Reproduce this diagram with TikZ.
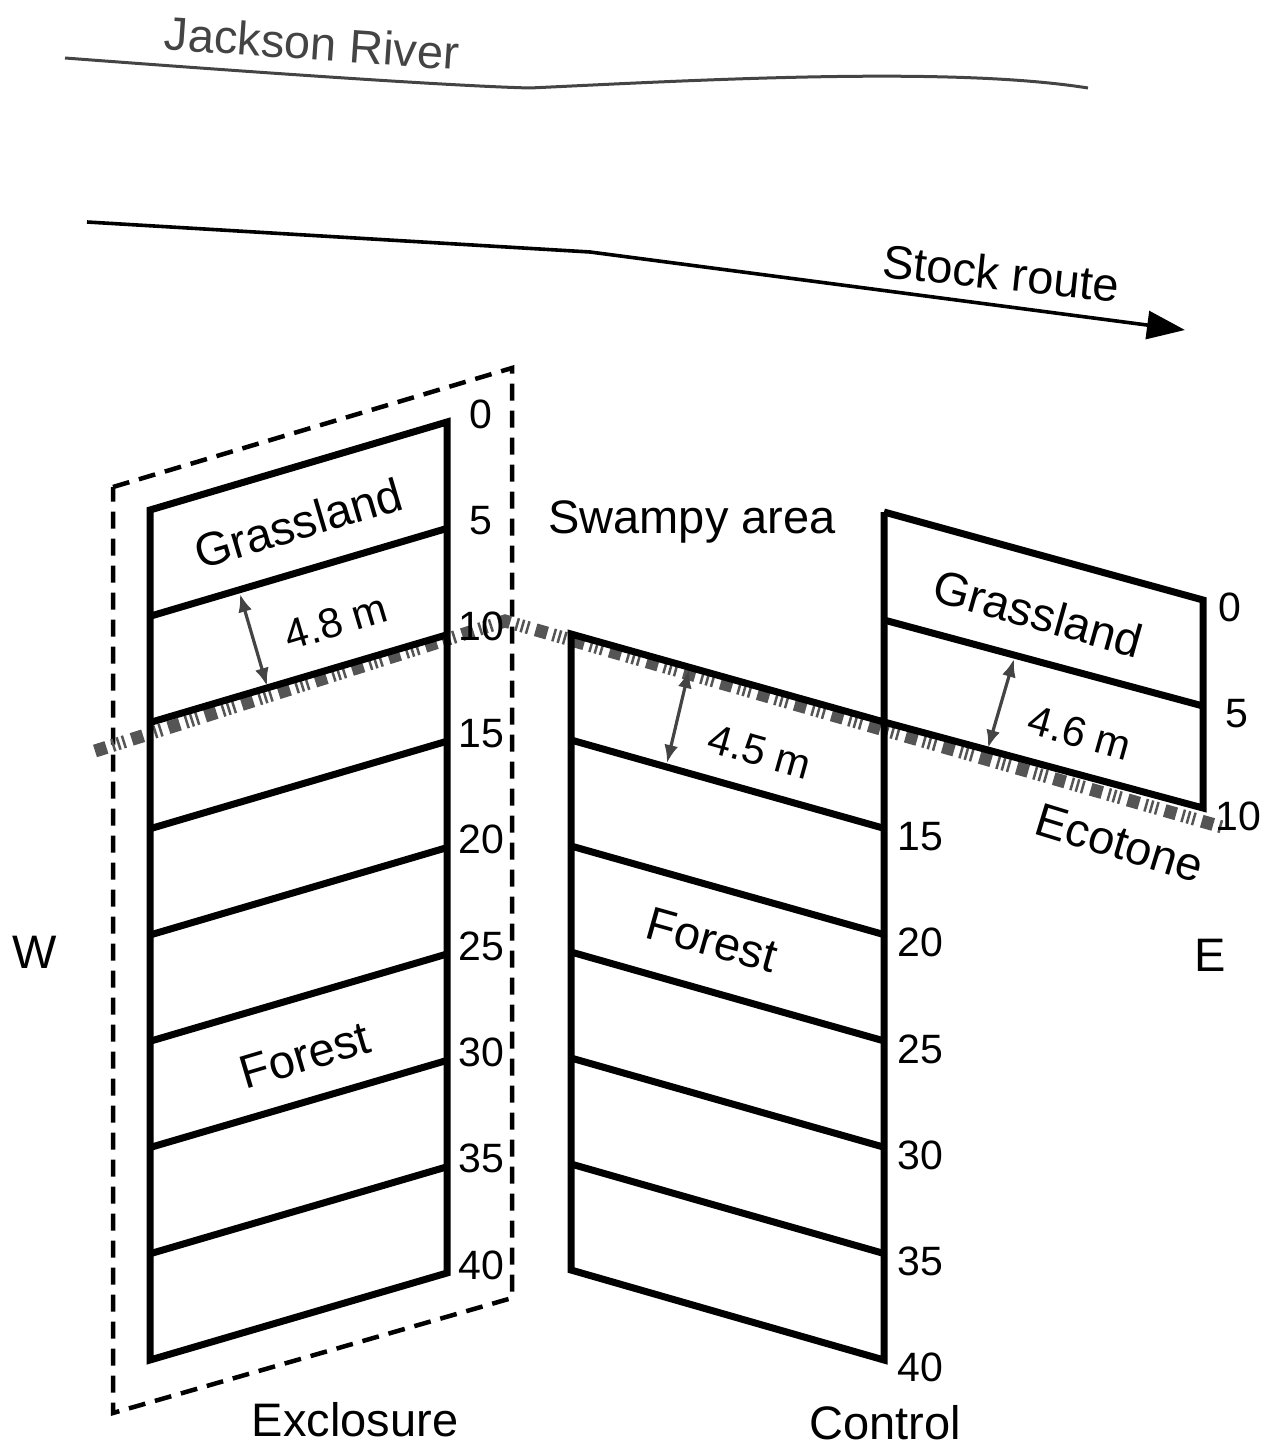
\documentclass[tikz,border=0pt]{standalone}
\usepackage{fontspec}
\setmainfont{Liberation Sans}
\usetikzlibrary{arrows.meta}
\definecolor{rivergray}{HTML}{444444}
\definecolor{ecogray}{HTML}{555555}
\begin{document}
\begin{tikzpicture}[x=1pt,y=-1pt,
  lbl/.style={font=\fontsize{47}{56}\selectfont, inner sep=0pt},
  meas/.style={font=\fontsize{42}{50}\selectfont, inner sep=0pt},
  num/.style={font=\fontsize{41}{48}\selectfont, inner sep=0pt},
  transect/.style={line width=7pt, line join=miter},
  boxdash/.style={line width=4.5pt, dash pattern=on 17pt off 10pt},
  ecotone/.style={line width=13pt, ecogray, dash pattern=on 12pt off 6pt on 2.5pt off 3pt on 2.5pt off 3pt on 2.5pt off 7pt},
  dimarrow/.style={line width=3.2pt, rivergray, {Latex[length=18pt,width=14pt]}-{Latex[length=18pt,width=14pt]}}
]
\useasboundingbox (0,0) rectangle (1270,1447);

% Jackson River
\draw[rivergray, line width=3pt] (65,58) .. controls (250,72) and (450,86) .. (530,88)
  .. controls (700,80) and (950,66) .. (1088,88);
\node[lbl, text=rivergray, rotate=-4] (river) at (312,43) {Jackson River};

% Stock route
\coordinate (sr0) at (87,222);
\coordinate (sr1) at (590,252);
\coordinate (sr2) at (1185,330);
\draw[line width=3.6pt, -{Triangle[length=38pt,width=28pt]}] (sr0) -- (sr1) -- (sr2);
\node[lbl, rotate=-6] (stock) at (1001,273) {Stock route};

% Exclosure dashed box
\draw[boxdash] (113,487) -- (512,368) -- (512,1298) -- (113,1413) -- cycle;

% Ecotone line
\coordinate (e0) at (95,751);
\coordinate (e1) at (505,621);
\coordinate (e2) at (1222,827);
\draw[ecotone] (e0) -- (e1) -- (e2);

% Exclosure transect
\draw[transect] (150,510) -- (447,422) -- (447,1273) -- (150,1360) -- cycle;
\foreach \k in {1,...,7} {
  \draw[transect] (150,{510+106.25*\k}) -- (447,{422+106.4*\k});
}
\foreach \k/\t in {0/0,1/5,2/10,3/15,4/20,5/25,6/30,7/35,8/40} {
  \node[num] (wn\k) at (481,{414+106.4*\k}) {\t};
}

% Control transect
\draw[transect] (884,722) -- (571,634) -- (571,1270) -- (884,1360) -- (884,512);
\foreach \k in {1,...,5} {
  \draw[transect] (571,{634+106*\k}) -- (884,{722+106.3*\k});
}
\draw[transect] (884,512) -- (1203,600) -- (1203,808) -- (884,722);
\draw[transect] (884,620) -- (1203,706);
\foreach \k/\t in {1/15,2/20,3/25,4/30,5/35,6/40} {
  \node[num] (cn\k) at (920,{730+106.3*\k}) {\t};
}
\node[num] (en0) at (1230,607) {0};
\node[num] (en5) at (1237,714) {5};
\node[num] (en10) at (1238,816) {10};

% Dimension arrows
\coordinate (a1) at (240,594);
\coordinate (b1) at (267,686);
\draw[dimarrow] (a1) -- (b1);
\coordinate (a2) at (689,670);
\coordinate (b2) at (667,763);
\draw[dimarrow] (a2) -- (b2);
\coordinate (a3) at (1014,659);
\coordinate (b3) at (988,748);
\draw[dimarrow] (a3) -- (b3);

% Labels
\node[lbl, rotate=16.5] (gw) at (298,523) {Grassland};
\node[meas, rotate=16.5] (m48) at (336,622) {4.8 m};
\node[lbl, rotate=16.5] (fw) at (305,1055) {Forest};
\node[lbl] (swamp) at (692,522) {Swampy area};
\node[lbl, rotate=-15.7] (ge) at (1038,613) {Grassland};
\node[meas, rotate=-15.7] (m46) at (1080,733) {4.6 m};
\node[meas, rotate=-15.7] (m45) at (760,752) {4.5 m};
\node[lbl, rotate=-15.7] (fe) at (712,940) {Forest};
\node[lbl, rotate=-17] (eco) at (1120,843) {Ecotone};
\node[lbl] (W) at (35,952) {W};
\node[lbl] (E) at (1210,955) {E};
\node[lbl] (excl) at (355,1420) {Exclosure};
\node[lbl] (ctrl) at (885,1423) {Control};
\end{tikzpicture}
\end{document}
